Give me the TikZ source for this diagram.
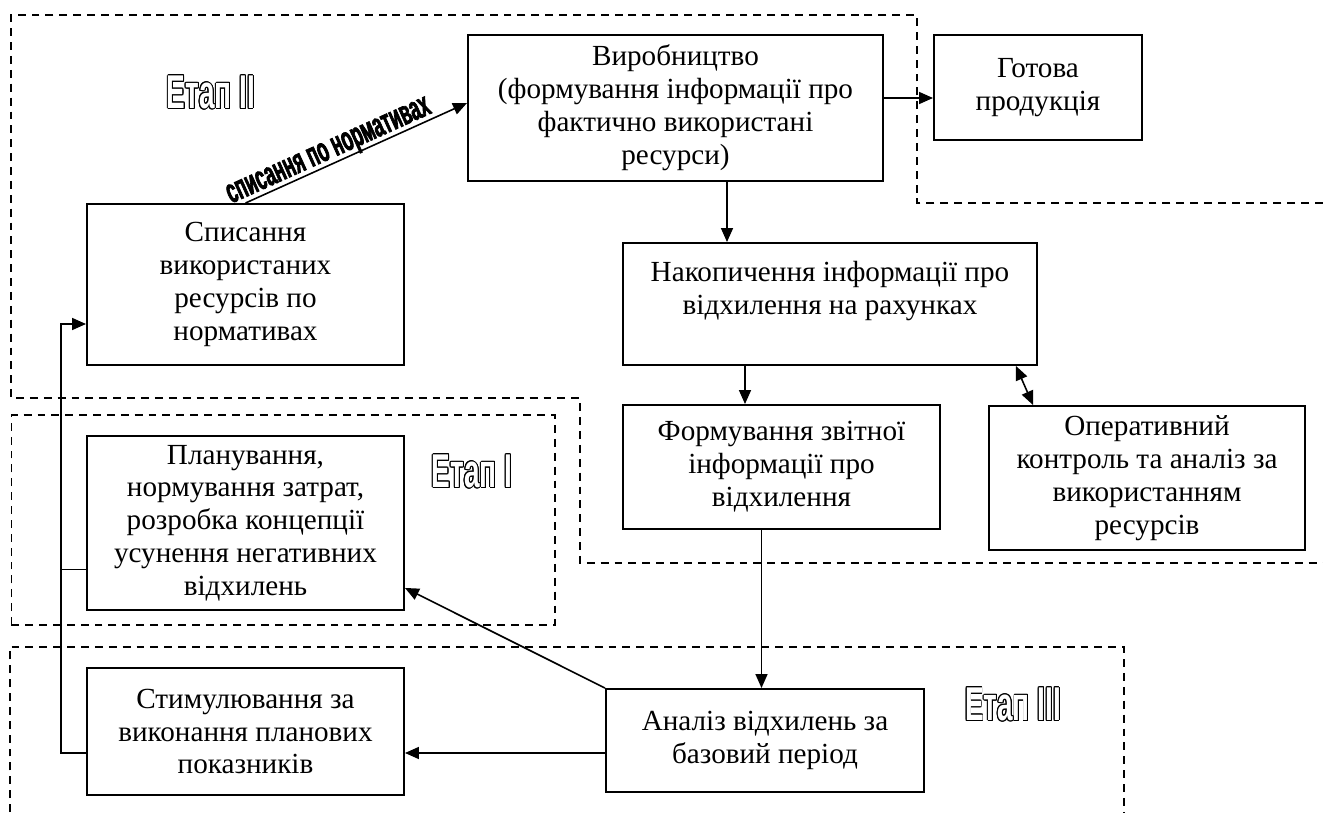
\documentclass[tikz,border=0pt]{standalone}
\usepackage{fontspec}
\setmainfont{Liberation Serif}
\newfontfamily\etapfont{Liberation Sans}[FakeStretch=0.59]
\newfontfamily\notefont{Liberation Sans}[FakeStretch=0.52, FakeBold=2]
\usepackage{contour}
\contourlength{0.55pt}
\usetikzlibrary{arrows.meta, positioning, calc}
\tikzset{
  blockbox/.style={draw, line width=1.1pt, align=center, inner sep=2pt,
    font=\fontsize{16.6}{18.7}\selectfont}
}
\tikzset{
  stagearea/.style={line width=0.8pt, dash pattern=on 4.5pt off 3.4pt},
  stagetext/.style={font=\etapfont\bfseries\fontsize{27}{29}\selectfont, inner sep=0pt},
  notetext/.style={font=\notefont\bfseries\fontsize{19.5}{20}\selectfont, inner sep=0pt},
  arr/.style={-{Triangle[length=0.28cm,width=0.24cm]}, line width=0.9pt},
  arrboth/.style={{Triangle[length=0.28cm,width=0.24cm]}-{Triangle[length=0.28cm,width=0.24cm]}, line width=0.9pt}
}
\newcommand{\etap}[1]{\contour{black}{\textcolor{white}{#1}}}

\begin{document}
\begin{tikzpicture}
      \useasboundingbox (0,0) rectangle (26.46,16.24);
      % stage areas
      \draw[stagearea] (26.46,12.18) -- (18.34,12.18) -- (18.34,15.94) -- (0.22,15.94)
        -- (0.22,8.28) -- (11.60,8.28) -- (11.60,4.98) -- (26.46,4.98);
      \draw[stagearea] (0.23,3.74) rectangle (11.10,7.94);
      \draw[stagearea] (0.20,0) -- (0.20,3.30) -- (22.48,3.30) -- (22.48,0);
      \node[stagetext] (st2) at (4.22,14.38) {\etap{Етап II}};
      \node[stagetext] (st1) at (9.44,6.80) {\etap{Етап I}};
      \node[stagetext] (st3) at (20.26,2.14) {\etap{Етап III}};
      % blocks
      \node[blockbox, minimum width=8.30cm, minimum height=2.92cm] (prod) at (13.51,14.08)
        {Виробництво\\(формування інформації про\\фактично використані\\ресурси)};
      \node[blockbox, minimum width=4.16cm, minimum height=2.10cm] (ready) at (20.76,14.49)
        {Готова\\продукція};
      \node[blockbox, minimum width=6.34cm, minimum height=3.22cm] (writeoff) at (4.91,10.55)
        {Списання\\використаних\\ресурсів по\\нормативах};
      \node[blockbox, minimum width=8.28cm, minimum height=2.44cm] (accum) at (16.60,10.16)
        {Накопичення інформації про\\відхилення на рахунках\\\mbox{}};
      \node[blockbox, minimum width=6.34cm, minimum height=2.48cm] (report) at (15.63,6.90)
        {Формування звітної\\інформації про\\відхилення};
      \node[blockbox, minimum width=6.32cm, minimum height=2.88cm] (control) at (22.94,6.68)
        {Оперативний\\контроль та аналіз за\\використанням\\ресурсів};
      \node[blockbox, minimum width=6.34cm, minimum height=3.48cm] (plan) at (4.91,5.78)
        {Планування,\\нормування затрат,\\розробка концепції\\усунення негативних\\відхилень};
      \node[blockbox, minimum width=6.34cm, minimum height=2.54cm] (stim) at (4.91,1.61)
        {Стимулювання за\\виконання планових\\показників};
      \node[blockbox, minimum width=6.36cm, minimum height=2.06cm] (analysis) at (15.30,1.43)
        {Аналіз відхилень за\\базовий період};
      % flow
      \draw[arr] (writeoff.north) -- node[notetext, pos=0.40, sloped, above=-1.5pt] (note) {списання по нормативах}
        ([yshift=1mm]prod.west);
      \coordinate (rin) at ([yshift=-2.1mm]ready.west);
      \draw[arr] (prod.east |- rin) -- (rin);
      \draw[arr] ([xshift=1.03cm]prod.south) -- ([xshift=1.03cm]prod.south |- accum.north);
      \draw[arr] ([xshift=-0.73cm]report.north |- accum.south) -- ([xshift=-0.73cm]report.north);
      \draw[arrboth] ([xshift=-0.44cm]accum.south east) -- ([xshift=0.9cm]control.north west);
      \draw[arr] ([xshift=-0.40cm]report.south) -- ([xshift=-0.40cm]report.south |- analysis.north);
      \draw[arr] (analysis.north west) -- ([yshift=0.46cm]plan.south east);
      \draw[arr] ([yshift=-0.25cm]analysis.west) -- ([yshift=-0.25cm]analysis.west -| stim.east);
      % feedback rail
      \coordinate (fbtop) at ([yshift=-0.79cm]writeoff.west);
      \coordinate (fbbot) at ([yshift=-0.43cm]stim.west);
      \draw[arr] (fbbot) -- ++(-0.5,0) |- (fbtop);
      \draw ([yshift=-0.92cm]plan.west) -- ++(-0.5,0);
\end{tikzpicture}
\end{document}
